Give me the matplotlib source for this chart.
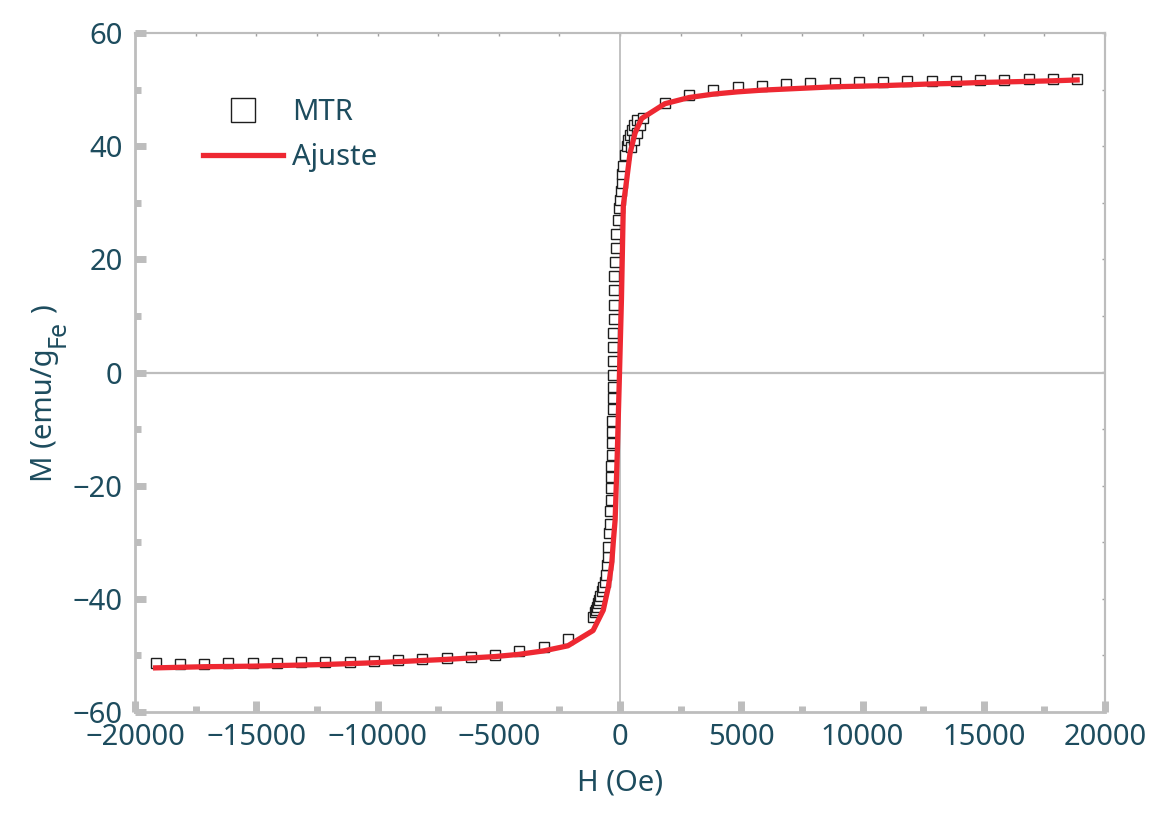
import numpy as np
import matplotlib
matplotlib.use("Agg")
import matplotlib.pyplot as plt

# === colours / fonts ===
txt_col = '#1d4c5e'
grey = '#bdbdbd'
red = '#ee2832'
plt.rcParams['font.family'] = ['Noto Sans', 'DejaVu Sans']

# === measured data (MTR), read off the picture ===
# left tail, high negative field
h_left = [-19150, -18150, -17150, -16150, -15150, -14150, -13150, -12150, -11150,
          -10150, -9150, -8150, -7150, -6150, -5150, -4150, -3150, -2150]
m_left = [-51.4, -51.5, -51.5, -51.4, -51.4, -51.4, -51.2, -51.2, -51.1,
          -51.0, -50.8, -50.6, -50.5, -50.2, -49.9, -49.3, -48.5, -47.1]

# steep central part
h_mid = [-1110, -1030, -990, -950, -920, -866, -825, -755, -690, -620, -577, -549,
         -507, -482, -441, -412, -400, -388, -376, -365, -354, -344, -334, -325,
         -316, -308, -300, -294, -290, -285, -280, -272, -265, -258, -245, -230,
         -210, -185, -150, -95, -40, 0, 40, 70, 100, 136, 206, 280, 344, 420, 500,
         590, 687, 454, 577, 701, 825, 948]
m_mid = [-43.2, -42.3, -41.9, -41.4, -40.8, -40.2, -39.5, -38.7, -37.9, -37.0, -35.8, -34.0,
         -32.6, -30.8, -28.4, -26.7, -24.5, -22.5, -20.5, -18.5, -16.5, -14.5, -12.5, -10.5,
         -8.5, -6.5, -4.5, -2.5, -0.5, 2.0, 4.5, 7.0, 9.5, 12.0, 14.5, 17.0,
         19.5, 22.0, 24.5, 27.0, 29.0, 30.5, 32.0, 33.5, 35.0, 36.5, 38.5, 40.0, 41.1, 42.0, 42.9,
         43.8, 44.6, 39.9, 41.1, 42.3, 43.7, 45.0]

# right tail, high positive field
h_right = [1850, 2850, 3850, 4850, 5850, 6850, 7850, 8850, 9850, 10850,
           11850, 12850, 13850, 14850, 15850, 16850, 17850, 18850]
m_right = [47.6, 49.0, 49.9, 50.4, 50.7, 50.9, 51.1, 51.2, 51.3, 51.4,
           51.5, 51.5, 51.6, 51.7, 51.7, 51.8, 51.8, 51.9]

h_mtr = h_left + h_mid + h_right
m_mtr = m_left + m_mid + m_right

# === fit (Ajuste) ===
h_fit = [-19150, -18150, -17150, -16150, -15150, -14150, -13150, -12150, -11150,
         -10150, -9150, -8150, -7150, -6150, -5150, -4150, -3150, -2150,
         -1110, -690, -480, -340, -270, -200, -110, -20, 60, 136, 274, 412, 619, 894,
         1850, 2850, 3850, 4850, 5850, 6850, 7850, 8850, 9850, 10850,
         11850, 12850, 13850, 14850, 15850, 16850, 17850, 18850]
m_fit = [-52.2, -52.1, -52.0, -51.95, -51.9, -51.8, -51.7, -51.6, -51.45,
         -51.3, -51.1, -50.9, -50.7, -50.45, -50.2, -49.8, -49.2, -48.3,
         -45.6, -42.0, -37.9, -33.7, -29.6, -26.0, -14.0, 0.0, 13.0, 29.5, 34.0, 38.7, 42.3, 44.9,
         47.5, 48.6, 49.2, 49.6, 49.9, 50.1, 50.3, 50.5, 50.6, 50.7,
         50.85, 51.0, 51.1, 51.25, 51.35, 51.45, 51.55, 51.7]

x_major = np.arange(-20000, 20001, 5000)
y_major = np.arange(-60, 61, 20)

W, H = 1163, 815

# === plotting ===
fig = plt.figure(figsize=(W / 100, H / 100), dpi=100)
ax = fig.add_axes([135 / W, 103 / H, 970 / W, 679 / H])

ax.axhline(0, color=grey, lw=1.6, zorder=1)
ax.axvline(0, color=grey, lw=1.3, zorder=1)

ax.plot(h_mtr, m_mtr, ls='none', marker='s', ms=7.4, mfc='white', mec='#1e1e1e',
        mew=1.0, label='MTR', zorder=3)
ax.plot(h_fit, m_fit, color=red, lw=3.8, label='Ajuste', zorder=4, solid_joinstyle='round')

ax.set_xlim(-20000, 20000)
ax.set_ylim(-60, 60)
ax.set_xticks(x_major)
ax.set_yticks(y_major)
ax.set_xticks(np.arange(-17500, 20000, 5000), minor=True)
ax.set_yticks(np.arange(-50, 60, 20), minor=True)

for s in ax.spines.values():
    s.set_color(grey)
ax.spines['left'].set_linewidth(2.0)
ax.spines['bottom'].set_linewidth(2.0)
ax.spines['top'].set_linewidth(1.5)
ax.spines['right'].set_linewidth(1.5)

ax.tick_params(which='major', direction='in', length=8, width=5, color=grey,
               labelsize=21, labelcolor=txt_col, pad=8)
ax.tick_params(which='minor', direction='in', length=4, width=5, color=grey)
ax.tick_params(axis='y', which='major', pad=9)

# thin ticks on top and right
top = ax.secondary_xaxis('top')
top.set_xticks(np.arange(-20000, 20001, 2500))
top.tick_params(direction='in', length=2.5, width=1, color='#a0a0a0', labeltop=False)
top.spines['top'].set_color(grey)
top.spines['top'].set_linewidth(1.5)
right = ax.secondary_yaxis('right')
right.set_yticks(np.arange(-60, 61, 10))
right.tick_params(direction='in', length=2.5, width=1, color='#a0a0a0', labelright=False)
right.spines['right'].set_color(grey)
right.spines['right'].set_linewidth(1.5)

ax.set_xlabel('H (Oe)', fontsize=21, color=txt_col, labelpad=12)

# y label built from pieces so the "Fe" subscript can be larger than mathtext's
kw = dict(rotation=90, rotation_mode='anchor', ha='left', va='baseline', color=txt_col)
t1 = fig.text(52 / W, 1 - 482 / H, 'M (emu/g', fontsize=21, **kw)
fig.canvas.draw()
y_top = t1.get_window_extent().y1
t2 = fig.text(65 / W, (y_top + 1) / H, 'Fe', fontsize=18, **kw)
fig.canvas.draw()
y_top = t2.get_window_extent().y1
fig.text(52 / W, (y_top + 7) / H, ')', fontsize=21, **kw)

leg = ax.legend(loc='upper left', bbox_to_anchor=(0.07, 0.904), frameon=False,
                fontsize=21, handlelength=2.75, handletextpad=0.3, markerscale=2.3,
                labelspacing=0.55, borderpad=0, borderaxespad=0)
for t in leg.get_texts():
    t.set_color(txt_col)

fig.savefig('out.png', dpi=100)
